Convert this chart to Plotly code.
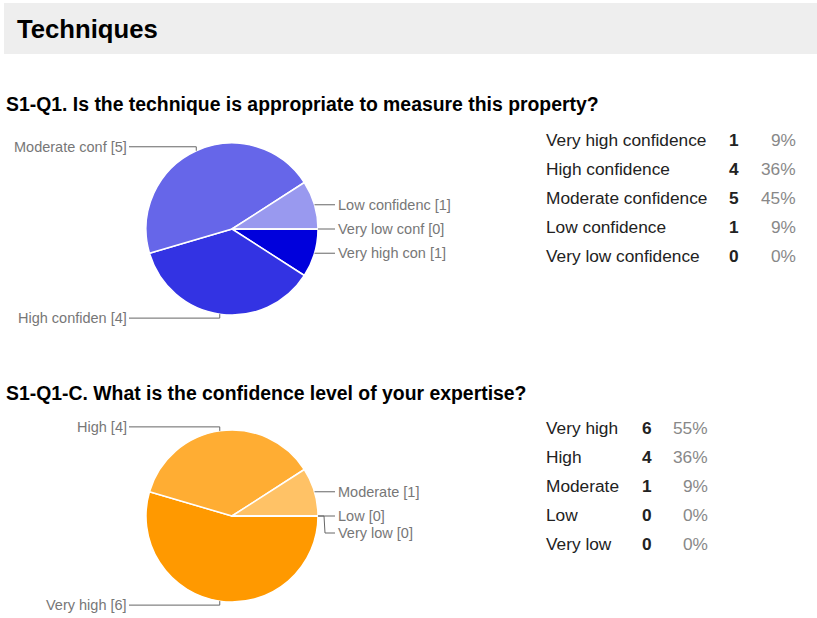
import math
import plotly.graph_objects as go

W, H = 817, 618

# ---- data ----
page_title = "Techniques"

q1_title = "S1-Q1. Is the technique is appropriate to measure this property?"
q1_categories = ["Very high confidence", "High confidence", "Moderate confidence",
                 "Low confidence", "Very low confidence"]
q1_short = ["Very high con", "High confiden", "Moderate conf", "Low confidenc", "Very low conf"]
q1_counts = [1, 4, 5, 1, 0]
q1_percents = ["9%", "36%", "45%", "9%", "0%"]
q1_colors = ["#0000dc", "#3333e3", "#6666e9", "#9999ef", "#ccccf7"]

q2_title = "S1-Q1-C. What is the confidence level of your expertise?"
q2_categories = ["Very high", "High", "Moderate", "Low", "Very low"]
q2_short = ["Very high", "High", "Moderate", "Low", "Very low"]
q2_counts = [6, 4, 1, 0, 0]
q2_percents = ["55%", "36%", "9%", "0%", "0%"]
q2_colors = ["#ff9900", "#ffad33", "#ffc266", "#ffd699", "#ffebcc"]

FONT = "Liberation Sans, Arial, sans-serif"
LABEL_GRAY = "#777777"
LINE_GRAY = "#666666"

fig = go.Figure()
shapes = []
annotations = []

# header band
shapes.append(dict(type="rect", xref="x", yref="y", x0=4, x1=W, y0=3, y1=54,
                   fillcolor="#eeeeee", line=dict(width=0), layer="below"))
annotations.append(dict(x=15, y=29, xref="x", yref="y", text="<b>%s</b>" % page_title,
                        showarrow=False, xanchor="left", yanchor="middle",
                        font=dict(family=FONT, size=25.7, color="#000000")))


def add_question(title, title_y, cats, shorts, counts, pcts, colors,
                 cx, cy, r, table_y0, count_x, pct_x):
    annotations.append(dict(x=4, y=title_y, xref="x", yref="y", text="<b>%s</b>" % title,
                            showarrow=False, xanchor="left", yanchor="middle",
                            font=dict(family=FONT, size=19.4, color="#000000")))

    # pie itself, placed in a square domain around (cx, cy)
    fig.add_trace(go.Pie(
        labels=cats, values=counts, sort=False, direction="clockwise", rotation=90,
        marker=dict(colors=colors, line=dict(color="#ffffff", width=1.5)),
        textinfo="none", hoverinfo="label+value+percent", showlegend=False,
        domain=dict(x=[(cx - r) / W, (cx + r) / W],
                    y=[(H - cy - r) / H, (H - cy + r) / H]),
    ))

    # slice mid-angle anchor points on the rim
    total = float(sum(counts))
    start = 0.0
    anchors = []
    for name, val in zip(shorts, counts):
        sweep = 360.0 * val / total
        mid = math.radians(start - sweep / 2.0)
        start -= sweep
        ex = cx + r * math.cos(mid)
        ey = cy - r * math.sin(mid)
        anchors.append(("%s [%d]" % (name, val), ex, ey))

    # left-side labels: vertical drop then horizontal run
    for text, ex, ey in anchors:
        if ex < cx - 1:
            ly = ey - 4 if ey < cy else ey + 4
            shapes.append(dict(type="path", xref="x", yref="y",
                               path="M %f %f L %f %f L %f %f" % (ex, ey, ex, ly, cx - r - 17, ly),
                               line=dict(color=LINE_GRAY, width=1)))
            annotations.append(dict(x=cx - r - 17, y=ly, xref="x", yref="y", text=text,
                                    showarrow=False, xanchor="right", yanchor="middle",
                                    font=dict(family=FONT, size=14.5, color=LABEL_GRAY)))

    # right-side labels: stacked top to bottom, pushed apart when crowded
    right = sorted([a for a in anchors if a[1] >= cx - 1], key=lambda a: a[2])
    prev = -1e9
    lx = cx + r + 17
    for text, ex, ey in right:
        ly = max(ey, prev + 17)
        prev = ly
        if abs(ly - ey) < 0.5:
            path = "M %f %f L %f %f" % (ex, ey, lx, ly)
        else:
            bx = ex + 6
            path = "M %f %f L %f %f L %f %f L %f %f" % (ex, ey, bx, ey, bx + 1, ly, lx, ly)
        shapes.append(dict(type="path", xref="x", yref="y", path=path,
                           line=dict(color=LINE_GRAY, width=1)))
        annotations.append(dict(x=lx + 1, y=ly, xref="x", yref="y", text=text,
                                showarrow=False, xanchor="left", yanchor="middle",
                                font=dict(family=FONT, size=14.5, color=LABEL_GRAY)))

    # summary table
    for i, (c, n, p) in enumerate(zip(cats, counts, pcts)):
        y = table_y0 + 29 * i
        annotations.append(dict(x=544, y=y, xref="x", yref="y", text=c, showarrow=False,
                                xanchor="left", yanchor="middle",
                                font=dict(family=FONT, size=17.3, color="#222222")))
        annotations.append(dict(x=count_x, y=y, xref="x", yref="y", text="<b>%d</b>" % n,
                                showarrow=False, xanchor="center", yanchor="middle",
                                font=dict(family=FONT, size=17.3, color="#222222")))
        annotations.append(dict(x=pct_x, y=y, xref="x", yref="y", text=p, showarrow=False,
                                xanchor="right", yanchor="middle",
                                font=dict(family=FONT, size=17.3, color="#888888")))


add_question(q1_title, 104, q1_categories, q1_short, q1_counts, q1_percents, q1_colors,
             cx=232, cy=229, r=86, table_y0=140, count_x=734, pct_x=798)
add_question(q2_title, 393, q2_categories, q2_short, q2_counts, q2_percents, q2_colors,
             cx=232, cy=516, r=86, table_y0=428, count_x=647, pct_x=710)

fig.update_layout(
    width=W, height=H,
    margin=dict(l=0, r=0, t=0, b=0),
    paper_bgcolor="#ffffff", plot_bgcolor="rgba(0,0,0,0)",
    xaxis=dict(range=[0, W], visible=False, fixedrange=True, domain=[0, 1]),
    yaxis=dict(range=[H, 0], visible=False, fixedrange=True, domain=[0, 1]),
    shapes=shapes, annotations=annotations,
)

fig.write_html("out.html")
